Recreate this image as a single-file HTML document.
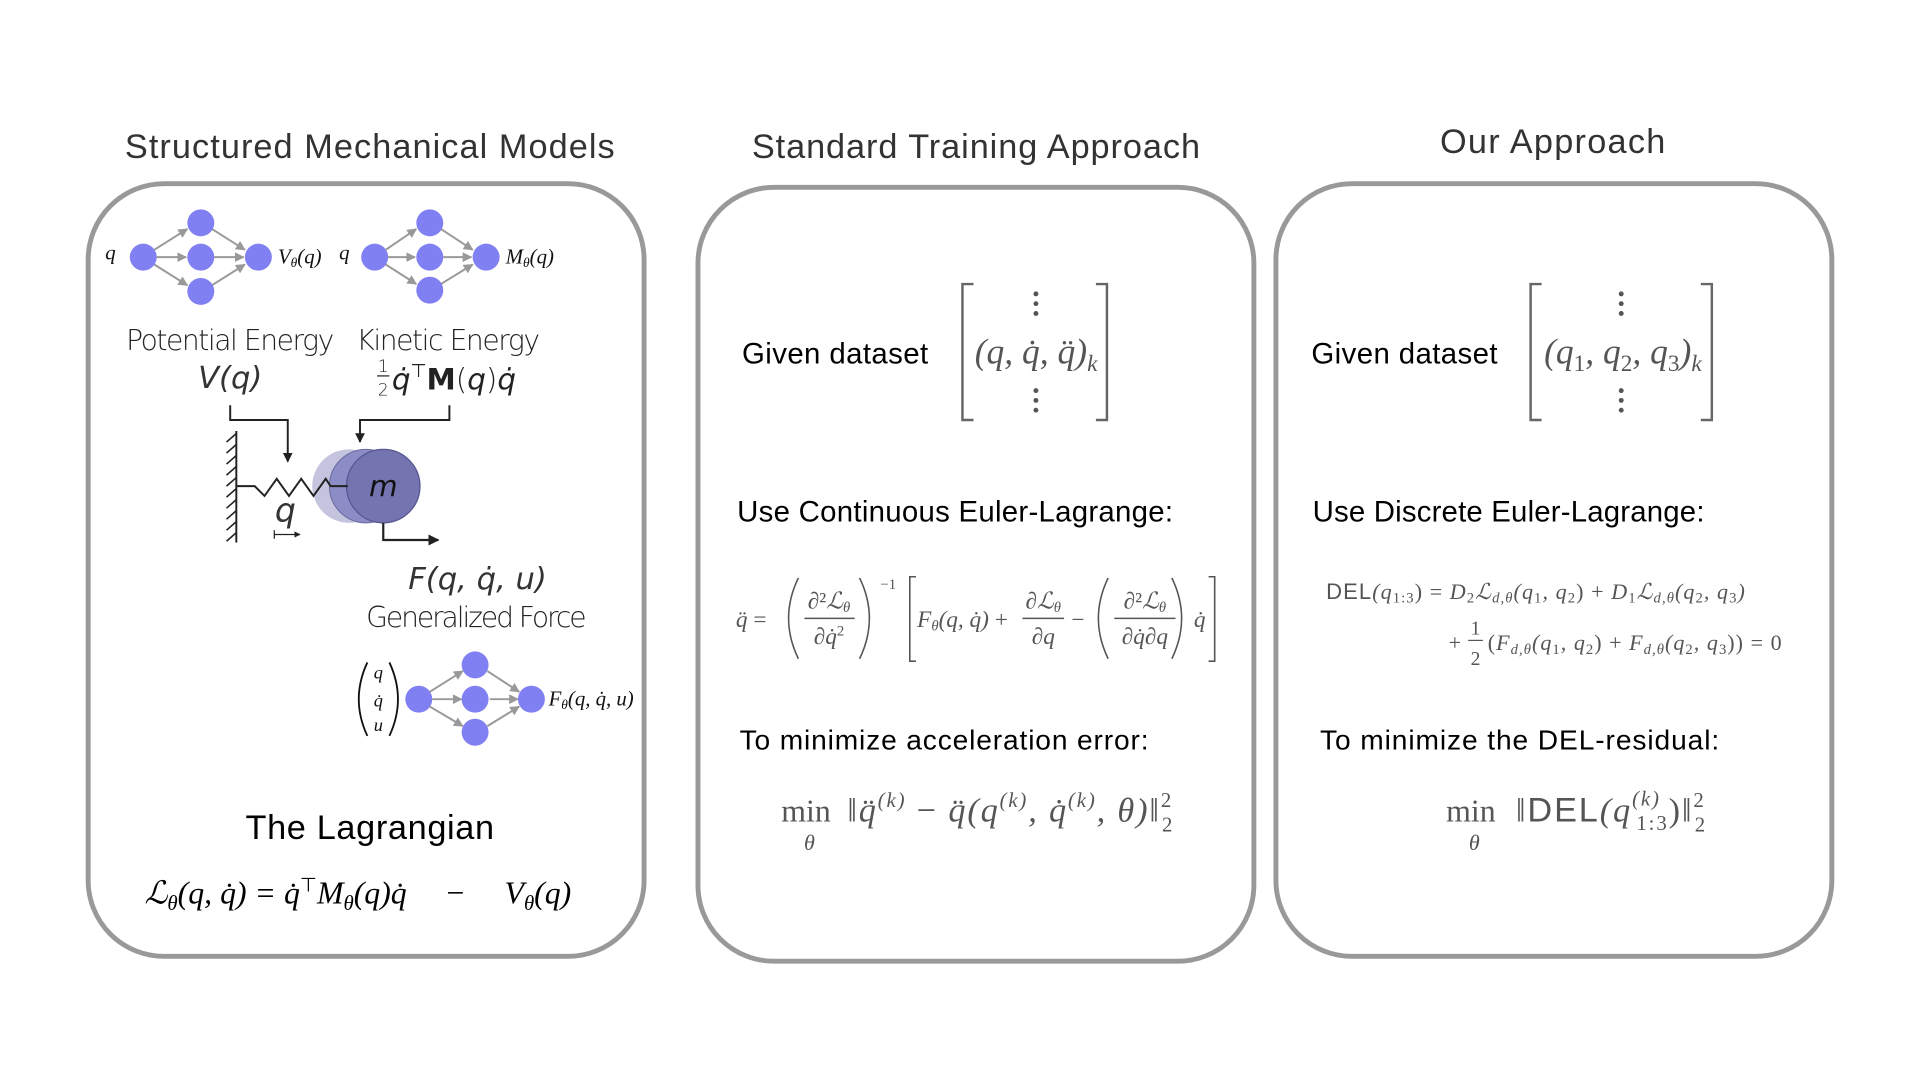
<!DOCTYPE html>
<html><head><meta charset="utf-8"><style>
html,body{margin:0;padding:0;background:#fff;width:1920px;height:1080px;overflow:hidden}
svg{display:block}
.t{font-family:"Liberation Sans",Arial,sans-serif;fill:#333}
.h{font-family:"Liberation Sans",Arial,sans-serif;fill:#000}
.s{font-family:"DejaVu Sans","Liberation Sans",sans-serif;fill:#222;font-weight:300}
.si{font-family:"DejaVu Sans","Liberation Sans",sans-serif;fill:#333;font-weight:200;font-style:italic}
.m{font-family:"Liberation Serif",serif;font-style:italic;fill:#555}
.mk{font-family:"Liberation Serif",serif;font-style:italic;fill:#111}
.r{font-style:normal}
</style></head><body>
<svg width="1920" height="1080" viewBox="0 0 1568 882" xmlns="http://www.w3.org/2000/svg">
<defs>
<marker id="a" viewBox="0 0 10 10" refX="9" refY="5" markerWidth="5" markerHeight="5" orient="auto"><path d="M0,0L10,5L0,10z" fill="#999"/></marker>
<marker id="b" viewBox="0 0 10 10" refX="9" refY="5" markerWidth="5" markerHeight="5" orient="auto"><path d="M0,0L10,5L0,10z" fill="#222"/></marker>
</defs>
<rect width="1568" height="882" fill="#fff"/>
<text class="t" x="302" y="129" font-size="28" text-anchor="middle" textLength="400">Structured Mechanical Models</text>
<text class="t" x="797" y="129" font-size="28" text-anchor="middle" textLength="366">Standard Training Approach</text>
<text class="t" x="1268" y="125" font-size="28" text-anchor="middle" textLength="184">Our Approach</text>
<rect x="72" y="150" width="454" height="631" rx="62" fill="none" stroke="#999" stroke-width="4"/>
<rect x="570" y="153" width="454" height="632" rx="62" fill="none" stroke="#999" stroke-width="4"/>
<rect x="1042" y="150" width="454" height="631" rx="62" fill="none" stroke="#999" stroke-width="4"/>

<g stroke="#999" stroke-width="1.6" marker-end="url(#a)">
<line x1="126" y1="204" x2="153" y2="187"/><line x1="128" y1="210" x2="152" y2="210"/><line x1="126" y1="216" x2="153" y2="233"/>
<line x1="173" y1="187" x2="200" y2="204"/><line x1="175" y1="210" x2="199" y2="210"/><line x1="173" y1="233" x2="200" y2="216"/>
<line x1="315" y1="204" x2="340" y2="187"/><line x1="317" y1="210" x2="339" y2="210"/><line x1="315" y1="216" x2="340" y2="232"/>
<line x1="360" y1="187" x2="386" y2="204"/><line x1="362" y1="210" x2="385" y2="210"/><line x1="360" y1="232" x2="386" y2="216"/>
<line x1="351" y1="565" x2="378" y2="548"/><line x1="353" y1="571" x2="377" y2="571"/><line x1="351" y1="577" x2="378" y2="593"/>
<line x1="398" y1="548" x2="424" y2="565"/><line x1="400" y1="571" x2="423" y2="571"/><line x1="398" y1="593" x2="424" y2="577"/>
</g>
<g fill="#8080f2">
<circle cx="117" cy="210" r="11"/><circle cx="164" cy="182" r="11"/><circle cx="164" cy="210" r="11"/><circle cx="164" cy="238" r="11"/><circle cx="211" cy="210" r="11"/>
<circle cx="306" cy="210" r="11"/><circle cx="351" cy="182" r="11"/><circle cx="351" cy="210" r="11"/><circle cx="351" cy="237" r="11"/><circle cx="397" cy="210" r="11"/>
<circle cx="342" cy="571" r="11"/><circle cx="388" cy="543" r="11"/><circle cx="388" cy="571" r="11"/><circle cx="388" cy="598" r="11"/><circle cx="434" cy="571" r="11"/>
</g>
<text class="mk" x="86" y="212" font-size="17">q</text>
<text class="mk" x="227" y="215" font-size="17">V<tspan font-size="11" dy="3">θ</tspan><tspan dy="-3">(q)</tspan></text>
<text class="mk" x="277" y="212" font-size="17">q</text>
<text class="mk" x="413" y="215" font-size="17">M<tspan font-size="11" dy="3">θ</tspan><tspan dy="-3">(q)</tspan></text>

<text class="s" x="188" y="286" font-size="23" text-anchor="middle" textLength="170">Potential Energy</text>
<text class="si" x="188" y="317" font-size="25" text-anchor="middle">V(q)</text>
<text class="s" x="366" y="286" font-size="23" text-anchor="middle" textLength="150">Kinetic Energy</text>
<text class="s" x="313" y="304" font-size="14" text-anchor="middle">1</text>
<line x1="308" y1="307" x2="318" y2="307" stroke="#222" stroke-width="1"/>
<text class="s" x="313" y="323" font-size="14" text-anchor="middle">2</text>
<text class="s" x="320" y="318" font-size="24"><tspan font-style="italic" font-weight="200">q̇</tspan><tspan font-size="15" dy="-10">⊤</tspan><tspan dy="10" font-weight="bold">M</tspan>(<tspan font-style="italic" font-weight="200">q</tspan>)<tspan font-style="italic" font-weight="200">q̇</tspan></text>

<polyline points="188,331 188,343 235,343 235,377" fill="none" stroke="#222" stroke-width="1.6" marker-end="url(#b)"/>
<polyline points="367,331 367,343 294,343 294,361" fill="none" stroke="#222" stroke-width="1.6" marker-end="url(#b)"/>
<line x1="193" y1="352" x2="193" y2="443" stroke="#222" stroke-width="1.6"/>
<g stroke="#222" stroke-width="1.3">
<line x1="193" y1="354" x2="185" y2="361"/><line x1="193" y1="363" x2="185" y2="370"/><line x1="193" y1="372" x2="185" y2="379"/><line x1="193" y1="381" x2="185" y2="388"/><line x1="193" y1="390" x2="185" y2="397"/><line x1="193" y1="399" x2="185" y2="406"/><line x1="193" y1="408" x2="185" y2="415"/><line x1="193" y1="417" x2="185" y2="424"/><line x1="193" y1="426" x2="185" y2="433"/><line x1="193" y1="435" x2="185" y2="442"/>
</g>
<circle cx="285" cy="397" r="30" fill="#c4c4de"/>
<circle cx="299" cy="397" r="30" fill="#8c8cc6" stroke="#6a6aa0" stroke-width="0.8"/>
<circle cx="313" cy="397" r="30" fill="#7474b0" stroke="#555590" stroke-width="1"/>
<polyline points="193,397 208,397 216,405 226,391 236,405 246,391 256,405 266,391 270,397 284,397" fill="none" stroke="#222" stroke-width="1.6"/>
<text class="si" x="313" y="405" font-size="24" text-anchor="middle" style="fill:#111">m</text>
<text class="si" x="233" y="426" font-size="27" text-anchor="middle">q</text>
<line x1="224" y1="433" x2="224" y2="440" stroke="#222" stroke-width="1"/>
<line x1="224" y1="436.5" x2="245" y2="436.5" stroke="#222" stroke-width="1" marker-end="url(#b)"/>
<polyline points="313,427 313,441 358,441" fill="none" stroke="#222" stroke-width="1.8" marker-end="url(#b)"/>
<text class="si" x="390" y="481" font-size="25" text-anchor="middle">F(q, q̇, u)</text>
<text class="s" x="389" y="512" font-size="23" text-anchor="middle" textLength="180">Generalized Force</text>
<path d="M300,541 Q286,571 300,601" fill="none" stroke="#111" stroke-width="1.5"/>
<path d="M318,541 Q332,571 318,601" fill="none" stroke="#111" stroke-width="1.5"/>
<text class="mk" x="309" y="554" font-size="15" text-anchor="middle">q</text>
<text class="mk" x="309" y="577" font-size="15" text-anchor="middle">q̇</text>
<text class="mk" x="309" y="597" font-size="15" text-anchor="middle">u</text>
<text class="mk" x="448" y="576" font-size="17">F<tspan font-size="11" dy="3">θ</tspan><tspan dy="-3">(q, q̇, u)</tspan></text>

<text class="h" x="302" y="685" font-size="28" text-anchor="middle" textLength="203">The Lagrangian</text>
<text class="mk" x="118" y="738" font-size="26" style="fill:#000">ℒ<tspan font-size="17" dy="5">θ</tspan><tspan dy="-5">(q, q̇) = q̇</tspan><tspan font-size="16" dy="-10" class="r">⊤</tspan><tspan dy="10">M</tspan><tspan font-size="17" dy="5">θ</tspan><tspan dy="-5">(q)q̇</tspan></text>
<text class="mk r" x="372" y="738" font-size="26" text-anchor="middle" style="fill:#000">−</text>
<text class="mk" x="412" y="738" font-size="26" style="fill:#000">V<tspan font-size="17" dy="5">θ</tspan><tspan dy="-5">(q)</tspan></text>

<text class="h" x="606" y="297" font-size="24" textLength="152">Given dataset</text>
<path d="M795,232 H786 V343 H795 M895,232 H904 V343 H895" fill="none" stroke="#666" stroke-width="2"/>
<g fill="#555"><circle cx="846" cy="240" r="2"/><circle cx="846" cy="248" r="2"/><circle cx="846" cy="256" r="2"/><circle cx="846" cy="319" r="2"/><circle cx="846" cy="327" r="2"/><circle cx="846" cy="335" r="2"/></g>
<text class="m" x="796" y="297" font-size="29">(q, q̇, q̈)<tspan font-size="19" dy="6">k</tspan></text>
<text class="h" x="602" y="426" font-size="24" textLength="356">Use Continuous Euler-Lagrange:</text>
<g class="m" font-size="19">
<text x="601" y="512">q̈ <tspan class="r">=</tspan></text>
<text x="677" y="497" text-anchor="middle"><tspan class="r">∂²</tspan>ℒ<tspan font-size="12" dy="3">θ</tspan></text>
<text x="677" y="526" text-anchor="middle"><tspan class="r">∂</tspan>q̇<tspan class="r" font-size="12" dy="-7">2</tspan></text>
<text x="719" y="481" font-size="12" class="r">−1</text>
<text x="749" y="512">F<tspan font-size="12" dy="3">θ</tspan><tspan dy="-3">(q, q̇) </tspan><tspan class="r">+</tspan></text>
<text x="852" y="497" text-anchor="middle"><tspan class="r">∂</tspan>ℒ<tspan font-size="12" dy="3">θ</tspan></text>
<text x="852" y="526" text-anchor="middle"><tspan class="r">∂</tspan>q</text>
<text x="875" y="512" class="r">−</text>
<text x="935" y="497" text-anchor="middle"><tspan class="r">∂²</tspan>ℒ<tspan font-size="12" dy="3">θ</tspan></text>
<text x="935" y="526" text-anchor="middle"><tspan class="r">∂</tspan>q̇<tspan class="r">∂</tspan>q</text>
<text x="975" y="512">q̇</text>
</g>
<g stroke="#555" fill="none" stroke-width="1.3">
<line x1="657" y1="505" x2="698" y2="505"/><line x1="835" y1="505" x2="869" y2="505"/><line x1="910" y1="505" x2="960" y2="505"/>
<path d="M652,472 Q636,505 652,538"/><path d="M702,472 Q718,505 702,538"/>
<path d="M905,472 Q889,505 905,538"/><path d="M957,472 Q973,505 957,538"/>
<path d="M748,471 H743 V540 H748"/><path d="M987,471 H992 V540 H987"/>
</g>
<text class="h" x="604" y="612" font-size="23" textLength="334">To minimize acceleration error:</text>
<text class="m r" x="638" y="671" font-size="26">min</text>
<text class="m" x="661" y="694" font-size="18" text-anchor="middle">θ</text>
<text class="m" x="692" y="671" font-size="28" textLength="266"><tspan class="r">‖</tspan>q̈<tspan font-size="17" dy="-12">(k)</tspan><tspan dy="12" class="r"> − </tspan>q̈(q<tspan font-size="17" dy="-12">(k)</tspan><tspan dy="12">, q̇</tspan><tspan font-size="17" dy="-12">(k)</tspan><tspan dy="12">, θ)</tspan><tspan class="r">‖</tspan><tspan font-size="17" dy="-12" class="r">2</tspan><tspan font-size="17" dy="20" dx="-9" class="r">2</tspan></text>

<text class="h" x="1071" y="297" font-size="24" textLength="152">Given dataset</text>
<path d="M1259,232 H1250 V343 H1259 M1389,232 H1398 V343 H1389" fill="none" stroke="#666" stroke-width="2"/>
<g fill="#555"><circle cx="1324" cy="240" r="2"/><circle cx="1324" cy="248" r="2"/><circle cx="1324" cy="256" r="2"/><circle cx="1324" cy="319" r="2"/><circle cx="1324" cy="327" r="2"/><circle cx="1324" cy="335" r="2"/></g>
<text class="m" x="1261" y="297" font-size="29">(q<tspan font-size="19" dy="6" class="r">1</tspan><tspan dy="-6">, q</tspan><tspan font-size="19" dy="6" class="r">2</tspan><tspan dy="-6">, q</tspan><tspan font-size="19" dy="6" class="r">3</tspan><tspan dy="-6">)</tspan><tspan font-size="19" dy="6">k</tspan></text>
<text class="h" x="1072" y="426" font-size="24" textLength="320">Use Discrete Euler-Lagrange:</text>
<text class="m" x="1083" y="489" font-size="18" textLength="342"><tspan font-family="Liberation Sans" class="r">DEL</tspan>(q<tspan font-size="12" dy="3" class="r">1:3</tspan><tspan dy="-3" class="r">) = </tspan>D<tspan font-size="12" dy="3" class="r">2</tspan><tspan dy="-3">ℒ</tspan><tspan font-size="12" dy="3">d,θ</tspan><tspan dy="-3">(q</tspan><tspan font-size="12" dy="3" class="r">1</tspan><tspan dy="-3">, q</tspan><tspan font-size="12" dy="3" class="r">2</tspan><tspan dy="-3" class="r">) + </tspan>D<tspan font-size="12" dy="3" class="r">1</tspan><tspan dy="-3">ℒ</tspan><tspan font-size="12" dy="3">d,θ</tspan><tspan dy="-3">(q</tspan><tspan font-size="12" dy="3" class="r">2</tspan><tspan dy="-3">, q</tspan><tspan font-size="12" dy="3" class="r">3</tspan><tspan dy="-3">)</tspan></text>
<text class="m r" x="1183" y="531" font-size="18">+</text>
<text class="m r" x="1205" y="518" font-size="16" text-anchor="middle">1</text>
<line x1="1199" y1="523" x2="1211" y2="523" stroke="#555" stroke-width="1"/>
<text class="m r" x="1205" y="543" font-size="16" text-anchor="middle">2</text>
<text class="m" x="1215" y="531" font-size="18" textLength="240"><tspan class="r">(</tspan>F<tspan font-size="12" dy="3">d,θ</tspan><tspan dy="-3">(q</tspan><tspan font-size="12" dy="3" class="r">1</tspan><tspan dy="-3">, q</tspan><tspan font-size="12" dy="3" class="r">2</tspan><tspan dy="-3" class="r">) + </tspan>F<tspan font-size="12" dy="3">d,θ</tspan><tspan dy="-3">(q</tspan><tspan font-size="12" dy="3" class="r">2</tspan><tspan dy="-3">, q</tspan><tspan font-size="12" dy="3" class="r">3</tspan><tspan dy="-3" class="r">)) = 0</tspan></text>
<text class="h" x="1078" y="612" font-size="23" textLength="326">To minimize the DEL-residual:</text>
<text class="m r" x="1181" y="671" font-size="26">min</text>
<text class="m" x="1204" y="694" font-size="18" text-anchor="middle">θ</text>
<text class="m" x="1238" y="671" font-size="28" textLength="155"><tspan class="r">‖</tspan><tspan font-family="Liberation Sans" class="r">DEL</tspan>(q<tspan font-size="17" dy="-13">(k)</tspan><tspan font-size="17" dy="20" dx="-20" class="r">1:3</tspan><tspan dy="-7" class="r">)‖</tspan><tspan font-size="17" dy="-12" class="r">2</tspan><tspan font-size="17" dy="20" dx="-9" class="r">2</tspan></text>
</svg>
</body></html>
